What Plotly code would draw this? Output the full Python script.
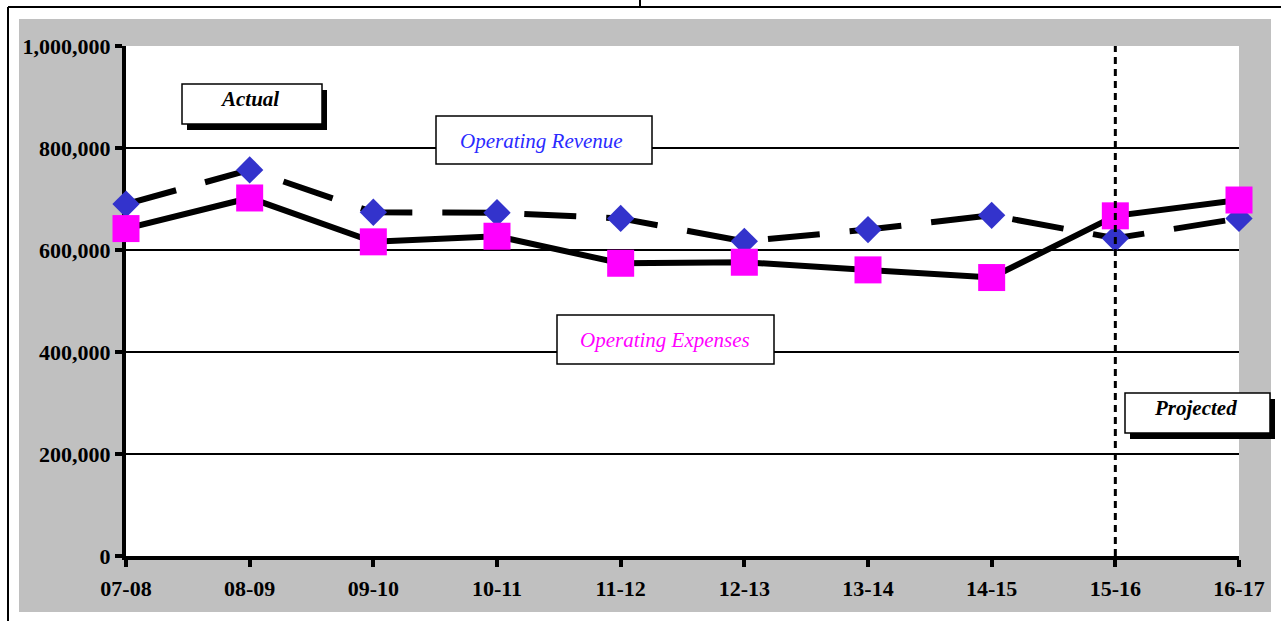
import plotly.graph_objects as go

# Fiscal years and the two series (dollars)
years = ["07-08", "08-09", "09-10", "10-11", "11-12", "12-13", "13-14", "14-15", "15-16", "16-17"]
revenue = [690000, 757000, 674000, 673000, 662000, 617000, 640000, 668000, 623000, 662000]
expenses = [642000, 702000, 616000, 627000, 574000, 576000, 561000, 546000, 667000, 698000]

y_ticks = [0, 200000, 400000, 600000, 800000, 1000000]
y_tick_labels = ["0", "200,000", "400,000", "600,000", "800,000", "1,000,000"]

first_projected_year = "15-16"

# Canvas and plot-area geometry (pixels)
W, H = 1281, 621
M_L, M_R, M_T, M_B = 126, 42, 46, 65
PW = W - M_L - M_R
PH = H - M_T - M_B


def px(x):
    """Pixel column -> paper x fraction."""
    return (x - M_L) / PW


def py(y):
    """Pixel row (from top) -> paper y fraction."""
    return (H - M_B - y) / PH


SERIF = "Liberation Serif"

fig = go.Figure()

fig.add_trace(go.Scatter(
    x=years, y=revenue, name="Operating Revenue", mode="lines+markers",
    line=dict(color="black", width=6, dash="52px,30px"),
    marker=dict(symbol="diamond", size=21, color="#3333cc"),
    cliponaxis=False, hoverinfo="skip",
))
fig.add_trace(go.Scatter(
    x=years, y=expenses, name="Operating Expenses", mode="lines+markers",
    line=dict(color="black", width=6),
    marker=dict(symbol="square", size=27, color="#ff00ff"),
    cliponaxis=False, hoverinfo="skip",
))

shapes = []
# grey chart frame and white plotting area
shapes.append(dict(type="rect", xref="paper", yref="paper",
                   x0=px(19), x1=px(1271), y0=py(612), y1=py(19),
                   fillcolor="#c0c0c0", line=dict(width=0), layer="below"))
shapes.append(dict(type="rect", xref="paper", yref="paper",
                   x0=0, x1=1, y0=0, y1=1,
                   fillcolor="white", line=dict(width=0), layer="below"))
# page border
shapes.append(dict(type="line", xref="paper", yref="paper",
                   x0=px(8), x1=px(8), y0=py(7), y1=py(H + 5),
                   line=dict(color="black", width=2)))
shapes.append(dict(type="line", xref="paper", yref="paper",
                   x0=px(8), x1=px(W + 5), y0=py(7), y1=py(7),
                   line=dict(color="black", width=2)))
shapes.append(dict(type="line", xref="paper", yref="paper",
                   x0=px(640), x1=px(640), y0=py(-2), y1=py(7),
                   line=dict(color="black", width=2)))
# actual / projected divider
proj_idx = years.index(first_projected_year)
shapes.append(dict(type="line", xref="x", yref="paper",
                   x0=proj_idx, x1=proj_idx, y0=0, y1=1,
                   line=dict(color="black", width=3, dash="7px,5px"), layer="above"))

# label boxes: (left, top, right, bottom, shadow)
boxes = [
    (182, 84, 322, 124, True),
    (436, 116, 652, 164, False),
    (557, 315, 774, 364, False),
    (1125, 393, 1270, 433, True),
]
for x0, y0, x1, y1, shadow in boxes:
    if shadow:
        shapes.append(dict(type="rect", xref="paper", yref="paper",
                           x0=px(x0 + 5), x1=px(x1 + 5), y0=py(y1 + 6), y1=py(y0 + 6),
                           fillcolor="black", line=dict(width=0), layer="above"))
    shapes.append(dict(type="rect", xref="paper", yref="paper",
                       x0=px(x0), x1=px(x1), y0=py(y1), y1=py(y0),
                       fillcolor="white", line=dict(color="black", width=1.5), layer="above"))

annotations = [
    dict(text="Actual", x=px(249), y=py(99), color="black", weight="bold"),
    dict(text="Operating Revenue", x=px(541), y=py(141), color="#2a2aff", weight="normal"),
    dict(text="Operating Expenses", x=px(665), y=py(340), color="#ff00ff", weight="normal"),
    dict(text="Projected", x=px(1195), y=py(408), color="black", weight="bold"),
]
fig.update_layout(annotations=[
    dict(text=a["text"], x=a["x"], y=a["y"], xref="paper", yref="paper",
         xanchor="center", yanchor="middle", showarrow=False,
         font=dict(family=SERIF, size=21, color=a["color"], weight=a["weight"], style="italic"))
    for a in annotations
])

tick_font = dict(family=SERIF, size=22, color="black", weight="bold")

fig.update_layout(
    width=W, height=H, autosize=False,
    margin=dict(l=M_L, r=M_R, t=M_T, b=M_B, pad=0),
    paper_bgcolor="white", plot_bgcolor="white",
    showlegend=False, shapes=shapes,
    xaxis=dict(
        type="category", range=[0, len(years) - 1], fixedrange=True,
        showgrid=False, zeroline=False,
        showline=True, linecolor="black", linewidth=4,
        ticks="outside", ticklen=7, tickwidth=4, tickcolor="black",
        tickfont=tick_font, ticklabelstandoff=3,
        layer="below traces",
    ),
    yaxis=dict(
        range=[0, 1000000], fixedrange=True,
        tickvals=y_ticks, ticktext=y_tick_labels,
        showgrid=True, gridcolor="black", gridwidth=2, zeroline=False,
        showline=True, linecolor="black", linewidth=4,
        ticks="outside", ticklen=7, tickwidth=4, tickcolor="black",
        tickfont=tick_font,
        layer="below traces",
    ),
)

fig.write_html("out.html")
